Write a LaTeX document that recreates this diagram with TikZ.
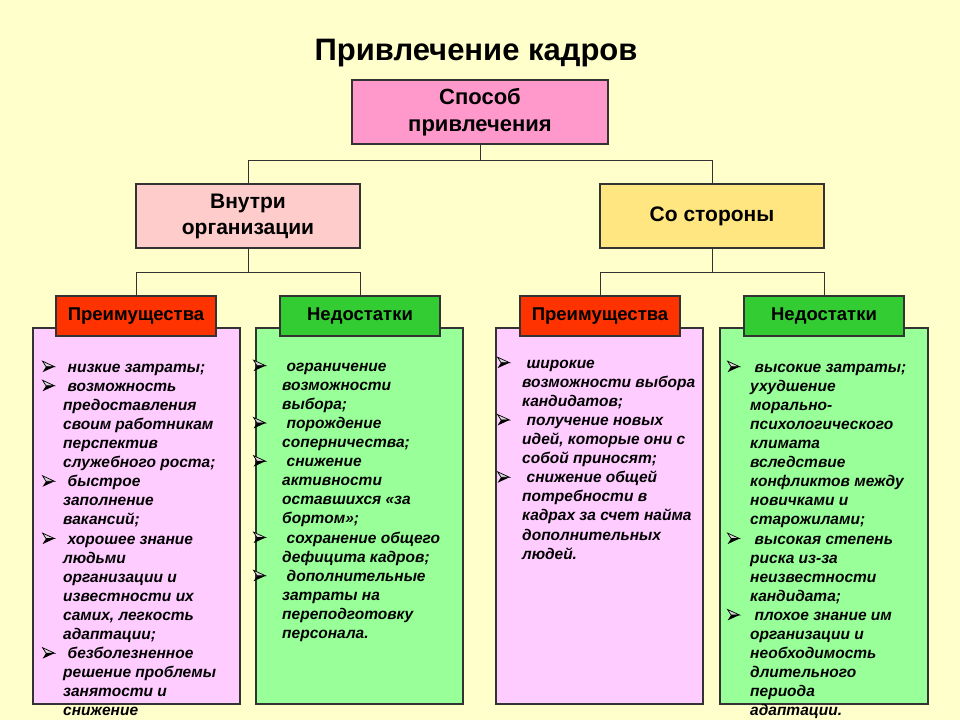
\documentclass[tikz,border=0pt]{standalone}
\usepackage{fontspec}
\setmainfont{Liberation Sans}
\definecolor{bgc}{HTML}{FFFFCC}
\definecolor{topc}{HTML}{FF99CC}
\definecolor{inc}{HTML}{FFCCCC}
\definecolor{outc}{HTML}{FFE680}
\definecolor{redc}{HTML}{FF3300}
\definecolor{greenc}{HTML}{33CC33}
\definecolor{pinkc}{HTML}{FFCCFF}
\definecolor{lgreenc}{HTML}{99FF99}
\definecolor{linec}{HTML}{333333}
\newlength\hind
\newcommand\arrowbul{\tikz[x=1pt,y=1pt,baseline=0pt,line width=0.7pt,line join=miter]{%
  \filldraw[fill=white!85!black,draw=black] (0,11)--(12,5.5)--(3.5,5.5)--cycle;
  \fill[black] (3.5,5.5)--(12,5.5)--(0,0)--cycle;}}
\newcommand\bitem{\makebox[\hind][l]{\arrowbul}\hspace*{4.5pt}}
\newcommand\citem{\hspace*{\hind}}
\begin{document}
\begin{tikzpicture}[x=1pt,y=-1pt,
  box/.style={draw=linec, line width=1.3pt, inner sep=0pt, outer sep=0pt},
  conn/.style={draw=linec, line width=1pt},
  lvl/.style={box, minimum width=224pt, minimum height=64pt, align=center, font=\bfseries\fontsize{21}{26}\selectfont},
  head/.style={box, minimum width=160pt, minimum height=40pt, font=\bfseries\fontsize{18.5}{22}\selectfont},
  content/.style={box, minimum height=376pt},
  txt/.style={anchor=north west, inner sep=0pt, align=left, font=\bfseries\itshape\fontsize{15.5}{19.1}\selectfont}]
\fill[bgc] (0,0) rectangle (960,720);
\useasboundingbox (0,0) rectangle (960,720);

\node[font=\bfseries\fontsize{31}{37}\selectfont, anchor=base] (title) at (476,60) {Привлечение кадров};

\node[box, fill=topc, minimum width=256pt, minimum height=64pt, align=center,
  font=\bfseries\fontsize{22}{27}\selectfont] (top) at (480,112) {Способ\\привлечения};
\node[lvl, fill=inc] (inl) at (248,216) {Внутри\\организации};
\node[lvl, fill=outc] (outl) at (712,216) {Со стороны};

\node[content, fill=pinkc, minimum width=207pt] (c1) at (136.5,516) {};
\node[content, fill=lgreenc, minimum width=207pt] (c2) at (359.5,516) {};
\node[content, fill=pinkc, minimum width=207pt] (c3) at (599.5,516) {};
\node[content, fill=lgreenc, minimum width=208pt] (c4) at (824,516) {};

\node[head, fill=redc] (h1) at (136,316) {Преимущества};
\node[head, fill=greenc] (h2) at (360,316) {Недостатки};
\node[head, fill=redc] (h3) at (600,316) {Преимущества};
\node[head, fill=greenc] (h4) at (824,316) {Недостатки};

\draw[conn] (top.south) -- ++(0,16) coordinate (j0) -| (inl.north);
\draw[conn] (j0) -| (outl.north);
\draw[conn] (inl.south) -- ++(0,24) coordinate (j1) -| (h1.north);
\draw[conn] (j1) -| (h2.north);
\draw[conn] (outl.south) -- ++(0,24) coordinate (j2) -| (h3.north);
\draw[conn] (j2) -| (h4.north);

\setlength\hind{21pt}
\node[txt] (t1) at (42,358.6) {\strut\bitem низкие затраты;\\
\bitem возможность\\
\citem предоставления\\
\citem своим работникам\\
\citem перспектив\\
\citem служебного роста;\\
\bitem быстрое\\
\citem заполнение\\
\citem вакансий;\\
\bitem хорошее знание\\
\citem людьми\\
\citem организации и\\
\citem известности их\\
\citem самих, легкость\\
\citem адаптации;\\
\bitem безболезненное\\
\citem решение проблемы\\
\citem занятости и\\
\citem снижение};

\setlength\hind{29pt}
\node[txt] (t2) at (253,357.6) {\strut\bitem ограничение\\
\citem возможности\\
\citem выбора;\\
\bitem порождение\\
\citem соперничества;\\
\bitem снижение\\
\citem активности\\
\citem оставшихся «за\\
\citem бортом»;\\
\bitem сохранение общего\\
\citem дефицита кадров;\\
\bitem дополнительные\\
\citem затраты на\\
\citem переподготовку\\
\citem персонала.};

\setlength\hind{25pt}
\node[txt] (t3) at (497,354.6) {\strut\bitem широкие\\
\citem возможности выбора\\
\citem кандидатов;\\
\bitem получение новых\\
\citem идей, которые они с\\
\citem собой приносят;\\
\bitem снижение общей\\
\citem потребности в\\
\citem кадрах за счет найма\\
\citem дополнительных\\
\citem людей.};

\setlength\hind{23pt}
\node[txt] (t4) at (727,358.6) {\strut\bitem высокие затраты;\\
\citem ухудшение\\
\citem морально-\\
\citem психологического\\
\citem климата\\
\citem вследствие\\
\citem конфликтов между\\
\citem новичками и\\
\citem старожилами;\\
\bitem высокая степень\\
\citem риска из-за\\
\citem неизвестности\\
\citem кандидата;\\
\bitem плохое знание им\\
\citem организации и\\
\citem необходимость\\
\citem длительного\\
\citem периода\\
\citem адаптации.};
\end{tikzpicture}
\end{document}
